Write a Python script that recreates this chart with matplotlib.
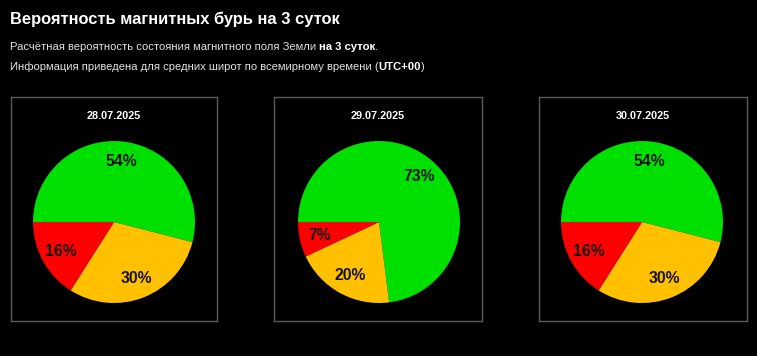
import matplotlib
matplotlib.use("Agg")
import matplotlib.pyplot as plt

# прогноз на 3 суток
dates = ["28.07.2025", "29.07.2025", "30.07.2025"]
quiet = [54, 73, 54]      # зелёный
unsettled = [30, 20, 30]  # оранжевый
storm = [16, 7, 16]       # красный
colors = ["#00e000", "#ffc000", "#ff0000"]

plt.rcParams['font.family'] = ['Liberation Sans', 'DejaVu Sans']

W, H = 757, 356
fig = plt.figure(figsize=(W / 100, H / 100), dpi=100, facecolor="black")


def px(x, y):
    # пиксели сверху-слева -> доли фигуры
    return x / W, 1 - y / H


fig.text(*px(10, 19), "Вероятность магнитных бурь на 3 суток", color="white",
         fontsize=11.9, fontweight="bold", va="center", ha="left")


def rich_line(y, parts):
    r = fig.canvas.get_renderer()
    x = 10 / W
    for s, bold in parts:
        t = fig.text(x, 1 - y / H, s, fontsize=8.1, va="center", ha="left",
                     color="white" if bold else "#e0e0e0",
                     fontweight="bold" if bold else "normal")
        bb = t.get_window_extent(renderer=r)
        x += bb.width / W


rich_line(47, [("Расчётная вероятность состояния магнитного поля Земли ", False),
               ("на 3 суток", True), (".", False)])
rich_line(67, [("Информация приведена для средних широт по всемирному времени (", False),
               ("UTC+00", True), (")", False)])

boxes = [(11, 217), (274, 482), (539, 747)]
centers = [114, 379, 642]
R = 81
cy = 222

for i in range(3):
    x0, x1 = boxes[i]
    fx, fy = px(x0, 321)
    frame = fig.add_axes([fx, fy, (x1 - x0) / W, (321 - 97) / H], facecolor="black")
    frame.set_xticks([])
    frame.set_yticks([])
    for sp in frame.spines.values():
        sp.set_color("#5a5a5a")
        sp.set_linewidth(1)
    fig.text(*px((x0 + x1) / 2, 116), dates[i], color="white", fontsize=7.8,
             fontweight="bold", ha="center", va="center")

    ax = fig.add_axes([(centers[i] - R) / W, 1 - (cy + R) / H, 2 * R / W, 2 * R / H])
    vals = [quiet[i], unsettled[i], storm[i]]
    wedges, texts, autotexts = ax.pie(vals, colors=colors, startangle=180, counterclock=False,
                                      autopct="%d%%", pctdistance=0.75,
                                      wedgeprops={"linewidth": 0})
    for t in autotexts:
        t.set_fontsize(11.3)
        t.set_fontweight("bold")
        t.set_color("#111111")
    ax.set_xlim(-1, 1)
    ax.set_ylim(-1, 1)
    ax.set_aspect("auto")
    ax.axis("off")

fig.savefig("out.png", dpi=100, facecolor="black")
